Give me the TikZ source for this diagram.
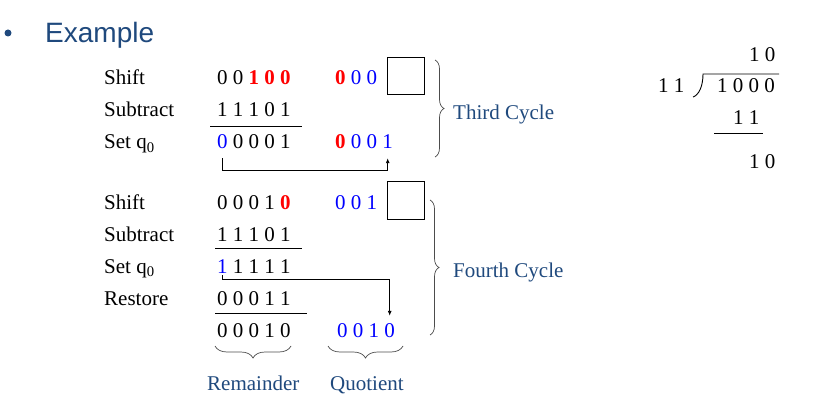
\documentclass[tikz,border=0pt]{standalone}
\usepackage{fontspec}
\setmainfont{Liberation Serif}
\setsansfont{Liberation Sans}
\usetikzlibrary{arrows.meta, decorations.pathreplacing}
\definecolor{slideblue}{RGB}{31,73,125}

\begin{document}
\begin{tikzpicture}[x=1pt,y=-1pt,
        every node/.style={inner sep=0pt, anchor=base west, font=\fontsize{21}{25}\selectfont},
        rule/.style={black, line width=0.9pt},
        qbox/.style={draw, line width=1pt, anchor=center, minimum width=37pt, minimum height=37pt},
        brc/.style={decorate, decoration={brace, amplitude=9pt}, gray!60!black, line width=0.7pt},
        link/.style={black, line width=0.9pt, -{Latex[length=5pt,width=4pt]}},
        cyc/.style={text=slideblue}]
        \useasboundingbox (0,0) rectangle (829,406);
        % title
        \fill [slideblue] (8,33) circle (3.5);
        \node [font=\sffamily\fontsize{28}{32}\selectfont, text=slideblue] (title) at (45,43) {Example};
        % third cycle
        \node (shA) at (104,85) {Shift};
        \node (subA) at (104,117) {Subtract};
        \node (setA) at (104,149) {Set q\textsubscript{0}};
        \node (remA) at (217,85) {0 0 \textbf{\color{red}1 0 0}};
        \node (quoA) at (335,85) {\textbf{\color{red}0} \color{blue}0 0};
        \node [qbox] (boxA) at (405.5,76.5) {};
        \node (dvsA) at (217,117) {1 1 1 0 1};
        \draw [rule] (210,126) -- (302,126);
        \node (qbitA) at (217,149) {\color{blue}0};
        \node (restA) at (232.75,149) {0 0 0 1};
        \node (quoA2) at (335,149) {\textbf{\color{red}0} \color{blue}0 0};
        \node (newA) at (382.25,149) {\color{blue}1};
        \draw [link] ([yshift=-9pt]qbitA.south) |- ([yshift=-21pt]newA.south) -- ([yshift=-9pt]newA.south);
        \draw [brc] (435,60) -- (435,157);
        \node [cyc] (cycA) at (453,120) {Third Cycle};
        % fourth cycle
        \node (shB) at (104,209) {Shift};
        \node (subB) at (104,241) {Subtract};
        \node (setB) at (104,273) {Set q\textsubscript{0}};
        \node (rstB) at (104,305) {Restore};
        \node (remB) at (217,209) {0 0 0 1 \textbf{\color{red}0}};
        \node (quoB) at (335,209) {\color{blue}0 0 1};
        \node [qbox] (boxB) at (406,200.5) {};
        \node (dvsB) at (217,241) {1 1 1 0 1};
        \draw [rule] (215,248) -- (302,248);
        \node (qbitB) at (217,273) {\color{blue}1};
        \node (restB) at (232.75,273) {1 1 1 1};
        \node (addB) at (217,305) {0 0 0 1 1};
        \draw [rule] (215,313) -- (307,313);
        \node (finB) at (217,337) {0 0 0 1 0};
        \node (quoB2) at (337,337) {\color{blue}0 0 1};
        \node (newB) at (384.25,337) {\color{blue}0};
        \draw [link] ([yshift=-2pt]qbitB.south) |- ([yshift=43pt]newB.north) -- ([yshift=7pt]newB.north);
        \draw [brc] (430,200) -- (430,335);
        \node [cyc] (cycB) at (453,277) {Fourth Cycle};
        \draw [brc, decoration={amplitude=12pt}] (291,346) -- (215,346);
        \draw [brc, decoration={amplitude=12pt}] (403,346) -- (328,346);
        \node [cyc] (remlab) at (207,390) {Remainder};
        \node [cyc] (quolab) at (330,390) {Quotient};
        % long division
        \node (dq) at (749,62) {1 0};
        \node (dv) at (658,93) {1 1};
        \node (dd) at (717,93) {1 0 0 0};
        \node (ds) at (733,125) {1 1};
        \node (dr) at (749,168) {1 0};
        \draw [rule] (693,97) .. controls (699,95) and (703,86) .. (703,74) -- (779,74);
        \draw [rule] (714,133) -- (763,133);
\end{tikzpicture}
\end{document}
